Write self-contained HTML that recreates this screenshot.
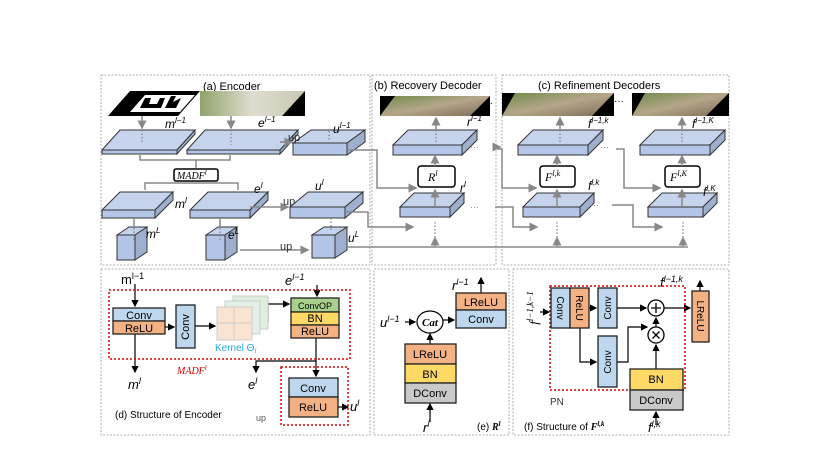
<!DOCTYPE html>
<html><head><meta charset="utf-8"><style>
html,body{margin:0;padding:0;background:#fff}
svg{display:block}
text{font-family:"Liberation Sans",sans-serif}
.m{font-family:"Liberation Serif",serif;font-style:italic}
</style></head><body>
<svg width="830" height="467" viewBox="0 0 830 467" xmlns="http://www.w3.org/2000/svg">
<defs>
<marker id="ag" markerWidth="6" markerHeight="6" refX="5" refY="3" orient="auto"><path d="M0,0 L6,3 L0,6 z" fill="#888"/></marker>
<marker id="ak" markerWidth="6" markerHeight="6" refX="5" refY="3" orient="auto"><path d="M0,0 L6,3 L0,6 z" fill="#000"/></marker>
<linearGradient id="ph" x1="0" y1="0" x2="1" y2="1"><stop offset="0" stop-color="#6f8a4a"/><stop offset="0.5" stop-color="#b5a68a"/><stop offset="1" stop-color="#7a6a55"/></linearGradient>
<linearGradient id="ph2" x1="0" y1="0" x2="1" y2="0"><stop offset="0" stop-color="#8fa36a"/><stop offset="0.5" stop-color="#e0ddd0"/><stop offset="1" stop-color="#c8c8b0"/></linearGradient>
</defs>
<g fill="none" stroke="#999" stroke-width="0.8" stroke-dasharray="2,1.5">
<rect x="101" y="75" width="269" height="190"/>
<rect x="372" y="75" width="124" height="190"/>
<rect x="502" y="75" width="227" height="190"/>
<rect x="101" y="269" width="269" height="166"/>
<rect x="374" y="269" width="135" height="166"/>
<rect x="513" y="269" width="216" height="166"/>
</g>
<text x="203" y="90" font-size="11">(a) Encoder</text>
<text x="374" y="89" font-size="11">(b) Recovery Decoder</text>
<text x="538" y="89" font-size="11">(c) Refinement Decoders</text>
<polygon points="108,116 130,91 200,91 178,116" fill="#000"/>
<polygon points="130,112 145,95 195,95 180,112" fill="#fff"/>
<path d="M140,108 l5,-10 l6,0 l-2,6 l8,0 l3,-6 l5,0 l-4,10 z M165,108 l6,-12 l5,0 l-3,6 l8,-4 l-5,10z" fill="#000"/>
<polygon points="200,91 305,91 282,116 200,116" fill="url(#ph2)"/>
<polygon points="282,116 305,91 305,116" fill="#000"/>
<polygon points="380,96 490,96 490,116 380,116" fill="url(#ph)"/>
<polygon points="470,116 490,96 490,116" fill="#000"/>
<polygon points="380,96 395,96 380,116" fill="#000"/>
<polygon points="502,93 614,93 614,116 502,116" fill="url(#ph)"/>
<polygon points="592,116 614,93 614,116" fill="#000"/><polygon points="502,93 515,93 502,116" fill="#000"/>
<polygon points="632,93 729,93 729,116 632,116" fill="url(#ph)"/>
<polygon points="706,116 729,93 729,116" fill="#000"/><polygon points="632,93 645,93 632,116" fill="#000"/>
<text x="483" y="106" font-size="10">···</text><text x="614" y="104" font-size="10">···</text>
<g stroke="#333" stroke-width="1">
<g fill="#c5d3ec"><polygon points="102,150 120,130 195,130 177,150"/><polygon points="187,150 205,130 298,130 280,150"/><polygon points="293,143 311,130 365,130 347,143"/>
<polygon points="102,210 120,192 173,192 155,210"/><polygon points="190,210 208,192 268,192 250,210"/><polygon points="290,207 308,192 363,192 345,207"/>
<polygon points="117,235 129,227 147,227 135,235"/><polygon points="206,235 218,227 237,227 225,235"/><polygon points="312,235 324,227 347,227 335,235"/>
<polygon points="393,145 408,130 477,130 462,145"/><polygon points="400,207 414,193 464,193 450,207"/>
<polygon points="518,145 533,130 603,130 588,145"/><polygon points="523,207 537,193 594,193 580,207"/>
<polygon points="640,145 655,130 725,130 710,145"/><polygon points="648,207 662,193 717,193 703,207"/></g>
<g fill="#9fb0cf"><polygon points="177,150 195,130 195,134 177,154"/><polygon points="280,150 298,130 298,134 280,154"/><polygon points="347,143 365,130 365,142 347,155"/>
<polygon points="155,210 173,192 173,200 155,218"/><polygon points="250,210 268,192 268,200 250,218"/><polygon points="345,207 363,192 363,203 345,218"/>
<polygon points="135,235 147,227 147,252 135,260"/><polygon points="225,235 237,227 237,252 225,260"/><polygon points="335,235 347,227 347,250 335,258"/>
<polygon points="462,145 477,130 477,140 462,155"/><polygon points="450,207 464,193 464,203 450,217"/>
<polygon points="588,145 603,130 603,140 588,155"/><polygon points="580,207 594,193 594,203 580,217"/>
<polygon points="710,145 725,130 725,140 710,155"/><polygon points="703,207 717,193 717,203 703,217"/></g>
<g fill="#b4c6e7"><rect x="102" y="150" width="75" height="4"/><rect x="187" y="150" width="93" height="4"/><rect x="293" y="143" width="54" height="12"/>
<rect x="102" y="210" width="53" height="8"/><rect x="190" y="210" width="60" height="8"/><rect x="290" y="207" width="55" height="11"/>
<rect x="117" y="235" width="18" height="25"/><rect x="206" y="235" width="19" height="25"/><rect x="312" y="235" width="23" height="23"/>
<rect x="393" y="145" width="69" height="10"/><rect x="400" y="207" width="50" height="10"/>
<rect x="518" y="145" width="70" height="10"/><rect x="523" y="207" width="57" height="10"/>
<rect x="640" y="145" width="70" height="10"/><rect x="648" y="207" width="55" height="10"/></g>
</g>
<g fill="#fff" stroke="#000" stroke-width="1.5">
<rect x="174" y="169" width="44" height="12" rx="2"/>
<rect x="418" y="166" width="37" height="21" rx="3"/>
<rect x="540" y="166" width="35" height="21" rx="3"/>
<rect x="665" y="166" width="35" height="21" rx="3"/>
</g>
<text x="177" y="179" font-size="10" class="m">MADF<tspan font-size="7" dy="-4">l</tspan></text>
<text x="428" y="181" font-size="12" class="m">R<tspan font-size="8" dy="-5">l</tspan></text>
<text x="545" y="181" font-size="12" class="m">F<tspan font-size="8" dy="-5">l,k</tspan></text>
<text x="670" y="181" font-size="12" class="m">F<tspan font-size="8" dy="-5">l,K</tspan></text>
<g stroke="#888" stroke-width="1.5" fill="none">
<path d="M142,116 V128" marker-end="url(#ag)"/><path d="M231,116 V128" marker-end="url(#ag)"/>
<path d="M140,155 V160 H230 V155 M196,160 V168"/>
<path d="M145,188 V183 H238 V190 M145,183 V190" />
<path d="M280,142 H292" marker-end="url(#ag)"/><path d="M250,207 H288" marker-end="url(#ag)"/>
<path d="M134,218 V227"/><path d="M220,218 V227"/>
<path d="M240,250 H308" marker-end="url(#ag)"/>
<path d="M347,150 H377 V188 H416" marker-end="url(#ag)"/>
<path d="M345,212 H368 V227 H413" marker-end="url(#ag)"/>
<path d="M347,247 H688"/>
<path d="M435,247 V238" marker-end="url(#ag)"/><path d="M557,247 V238" marker-end="url(#ag)"/><path d="M683,247 V238" marker-end="url(#ag)"/>
<path d="M435,207 V190" marker-end="url(#ag)"/><path d="M435,166 V156" marker-end="url(#ag)"/><path d="M436,130 V118" marker-end="url(#ag)"/>
<path d="M557,207 V190" marker-end="url(#ag)"/><path d="M557,166 V156" marker-end="url(#ag)"/><path d="M560,130 V118" marker-end="url(#ag)"/>
<path d="M682,207 V190" marker-end="url(#ag)"/><path d="M682,166 V156" marker-end="url(#ag)"/><path d="M682,130 V118" marker-end="url(#ag)"/>
<path d="M495,147 H500" marker-end="url(#ag)"/><path d="M497,149 H502 V188 H536" marker-end="url(#ag)"/>
<path d="M495,207 H513 V227 H537" marker-end="url(#ag)"/>
<path d="M616,149 H624 V188 H660" marker-end="url(#ag)"/>
<path d="M612,205 H633 V227 H662" marker-end="url(#ag)"/>
</g>
<g fill="#888" font-size="9"><text x="470" y="150">···</text><text x="470" y="210">···</text><text x="600" y="150">···</text><text x="590" y="208">···</text></g>
<g stroke="#888" stroke-width="1.3" stroke-dasharray="1.5,2">
<path d="M142,130 V142"/><path d="M231,130 V145"/><path d="M329,131 V140"/><path d="M134,228 V240"/><path d="M220,228 V240"/><path d="M331,218 V232"/>
<path d="M435,222 V240"/><path d="M557,222 V240"/><path d="M683,222 V240"/>
<path d="M436,130 V143"/><path d="M560,130 V143"/><path d="M682,130 V143"/>
</g>
<g font-size="12" class="m">
<text x="165" y="128">m<tspan font-size="8" dy="-5">l−1</tspan></text>
<text x="258" y="127">e<tspan font-size="8" dy="-5">l−1</tspan></text>
<text x="333" y="133">u<tspan font-size="8" dy="-5">l−1</tspan></text>
<text x="175" y="208">m<tspan font-size="8" dy="-5">l</tspan></text>
<text x="254" y="193">e<tspan font-size="8" dy="-5">l</tspan></text>
<text x="315" y="190">u<tspan font-size="8" dy="-5">l</tspan></text>
<text x="146" y="238">m<tspan font-size="8" dy="-5">L</tspan></text>
<text x="228" y="239">e<tspan font-size="8" dy="-5">L</tspan></text>
<text x="348" y="242">u<tspan font-size="8" dy="-5">L</tspan></text>
<text x="467" y="126">r<tspan font-size="8" dy="-5">l−1</tspan></text>
<text x="460" y="192">r<tspan font-size="8" dy="-5">l</tspan></text>
<text x="588" y="128">f<tspan font-size="8" dy="-5">l−1,k</tspan></text>
<text x="588" y="190">f<tspan font-size="8" dy="-5">l,k</tspan></text>
<text x="692" y="128">f<tspan font-size="8" dy="-5">l−1,K</tspan></text>
<text x="703" y="196">f<tspan font-size="8" dy="-5">l,K</tspan></text>
</g>
<g font-size="11" fill="#333"><text x="288" y="141">up</text><text x="283" y="205">up</text><text x="280" y="250">up</text></g>

<g stroke="#000" stroke-width="1.2" fill="none">
<path d="M135,284 V306" marker-end="url(#ak)"/><path d="M135,334 V372" marker-end="url(#ak)"/>
<path d="M165,327 H174" marker-end="url(#ak)"/><path d="M195,326 H215" marker-end="url(#ak)"/>
<path d="M258,322 H268 V304 H289" marker-end="url(#ak)"/>
<path d="M317,285 V296" marker-end="url(#ak)"/>
<path d="M316,338 V361 H256 V372" marker-end="url(#ak)"/><path d="M316,361 V376" marker-end="url(#ak)"/>
<path d="M338,407 H348" marker-end="url(#ak)"/>
</g>
<rect x="109" y="290" width="241" height="69" fill="none" stroke="#d00" stroke-width="1.5" stroke-dasharray="2,2"/>
<rect x="281" y="367" width="67" height="58" fill="none" stroke="#d00" stroke-width="1.5" stroke-dasharray="2,2"/>
<g stroke="#222" stroke-width="1.3">
<rect x="113" y="308" width="52" height="13" fill="#bdd7ee"/><rect x="113" y="321" width="52" height="13" fill="#f4b183"/>
<rect x="176" y="305" width="19" height="43" fill="#bdd7ee"/>
<rect x="291" y="298" width="48" height="14" fill="#a9d18e"/><rect x="291" y="312" width="48" height="13" fill="#ffd966"/><rect x="291" y="325" width="48" height="13" fill="#f4b183"/>
<rect x="289" y="378" width="49" height="19" fill="#bdd7ee"/><rect x="289" y="397" width="49" height="20" fill="#f4b183"/>
</g>
<g stroke="#ccc" stroke-width="1"><rect x="233" y="296" width="35" height="33" fill="#dfeedd"/><rect x="225" y="301" width="35" height="33" fill="#e4efe6"/><rect x="217" y="307" width="35" height="33" fill="#fbe3d2"/>
<path d="M234,307 V340 M217,323 H252"/></g>
<g font-size="11" text-anchor="middle"><text x="139" y="319">Conv</text><text x="139" y="332">ReLU</text>
<text x="315" y="309" font-size="9">ConvOP</text><text x="315" y="322">BN</text><text x="315" y="335">ReLU</text>
<text x="313" y="392">Conv</text><text x="313" y="411">ReLU</text></g>
<text transform="translate(189,327) rotate(-90)" font-size="11" text-anchor="middle">Conv</text>
<text x="215" y="351" font-size="10" fill="#2aa8e0">Kernel Θ<tspan class="m" font-size="7" dy="2">l</tspan></text>
<text x="177" y="374" font-size="10" fill="#d00" class="m">MADF<tspan font-size="7" dy="-4">l</tspan></text>
<g font-size="13" class="m"><text x="121" y="284" font-style="normal" font-family="Liberation Serif">m<tspan font-size="9" dy="-5">l−1</tspan></text>
<text x="285" y="285">e<tspan font-size="9" dy="-5">l−1</tspan></text>
<text x="128" y="389">m<tspan font-size="9" dy="-5">l</tspan></text><text x="248" y="389">e<tspan font-size="9" dy="-5">l</tspan></text>
<text x="350" y="411">u<tspan font-size="9" dy="-5">l</tspan></text></g>
<text x="115" y="418" font-size="10">(d) Structure of Encoder</text>
<text x="256" y="421" font-size="9" fill="#555">up</text>

<g stroke="#000" stroke-width="1.2" fill="none">
<path d="M481,293 V278" marker-end="url(#ak)"/>
<path d="M405,322 H415" marker-end="url(#ak)"/><path d="M443,320 H454" marker-end="url(#ak)"/>
<path d="M430,344 V334" marker-end="url(#ak)"/><path d="M430,422 V404" marker-end="url(#ak)"/>
</g>
<ellipse cx="430" cy="322" rx="13" ry="11" fill="#fff" stroke="#000" stroke-width="1.2"/>
<text x="430" y="326" font-size="11" class="m" text-anchor="middle" font-weight="bold">Cat</text>
<g stroke="#222" stroke-width="1.3">
<rect x="456" y="293" width="50" height="17" fill="#f4b183"/><rect x="456" y="310" width="50" height="18" fill="#bdd7ee"/>
<rect x="405" y="344" width="51" height="20" fill="#f4b183"/><rect x="405" y="364" width="51" height="19" fill="#ffd966"/><rect x="405" y="383" width="51" height="20" fill="#c9c9c9"/>
</g>
<g font-size="11" text-anchor="middle"><text x="481" y="306">LReLU</text><text x="481" y="323">Conv</text>
<text x="430" y="358">LReLU</text><text x="430" y="378">BN</text><text x="430" y="397">DConv</text></g>
<g font-size="13" class="m"><text x="452" y="290">r<tspan font-size="9" dy="-5">l−1</tspan></text>
<text x="380" y="327">u<tspan font-size="9" dy="-5">l−1</tspan></text><text x="423" y="432">r<tspan font-size="9" dy="-5">l</tspan></text></g>
<text x="477" y="430" font-size="10">(e) <tspan class="m" font-weight="bold">R<tspan font-size="7" dy="-4">l</tspan></tspan></text>

<g stroke="#000" stroke-width="1.2" fill="none">
<path d="M540,312 H549" marker-end="url(#ak)"/>
<path d="M589,308 H596" marker-end="url(#ak)"/><path d="M617,308 H646" marker-end="url(#ak)"/>
<path d="M580,328 V362 H596" marker-end="url(#ak)"/>
<path d="M617,362 H628 V327 H647" marker-end="url(#ak)"/>
<path d="M656,369 V345" marker-end="url(#ak)"/>
<path d="M656,327 V318" marker-end="url(#ak)"/>
<path d="M664,308 H690" marker-end="url(#ak)"/>
<path d="M700,291 V281" marker-end="url(#ak)"/>
<path d="M656,425 V412" marker-end="url(#ak)"/>
</g>
<rect x="550" y="286" width="135" height="104" fill="none" stroke="#d00" stroke-width="1.5" stroke-dasharray="2,2"/>
<g stroke="#222" stroke-width="1.3">
<rect x="551" y="288" width="19" height="40" fill="#bdd7ee"/><rect x="570" y="288" width="19" height="40" fill="#f4b183"/>
<rect x="598" y="288" width="19" height="40" fill="#bdd7ee"/><rect x="598" y="336" width="19" height="51" fill="#bdd7ee"/>
<rect x="630" y="369" width="53" height="21" fill="#ffd966"/><rect x="630" y="390" width="53" height="20" fill="#c9c9c9"/>
<rect x="692" y="291" width="17" height="51" fill="#f4b183"/>
</g>
<g fill="#fff" stroke="#000" stroke-width="1.3"><circle cx="656" cy="308" r="8"/><circle cx="656" cy="335" r="8"/></g>
<g stroke="#000" stroke-width="1.3"><path d="M651,308 H661 M656,303 V313 M652.5,331.5 L659.5,338.5 M659.5,331.5 L652.5,338.5"/></g>
<g font-size="10" text-anchor="middle">
<text transform="translate(557,308) rotate(90)">Conv</text><text transform="translate(576,308) rotate(90)">ReLU</text>
<text transform="translate(611,308) rotate(-90)">Conv</text><text transform="translate(611,362) rotate(-90)">Conv</text>
<text transform="translate(697,316) rotate(90)">LReLU</text></g>
<g font-size="11" text-anchor="middle"><text x="656" y="383">BN</text><text x="656" y="404">DConv</text></g>
<text transform="translate(538,308) rotate(-90)" font-size="13" class="m" text-anchor="middle">f<tspan font-size="9" dy="-5">l−1,k−1</tspan></text>
<g font-size="13" class="m"><text x="660" y="287">f<tspan font-size="9" dy="-5">l−1,k</tspan></text><text x="648" y="432">f<tspan font-size="9" dy="-5">l,k</tspan></text></g>
<text x="550" y="405" font-size="10" fill="#333">PN</text>
<text x="524" y="430" font-size="10">(f) Structure of <tspan class="m" font-weight="bold">F<tspan font-size="7" dy="-4">l,k</tspan></tspan></text>
</svg>
</body></html>
